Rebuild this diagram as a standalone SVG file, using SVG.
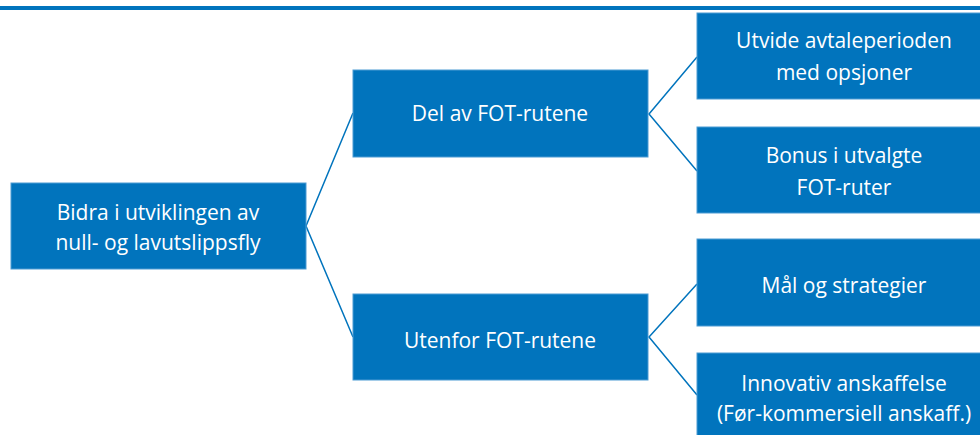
<svg xmlns="http://www.w3.org/2000/svg" width="980" height="435" viewBox="0 0 980 435">
  <style>
    .box { fill: #0174bd; stroke: #4c9bd3; stroke-width: 1; }
    .lbl { fill: #ffffff; font-family: "Open Sans", Lato, "Liberation Sans", sans-serif; font-size: 21px; text-anchor: middle; }
    .conn { fill: none; stroke: #0174bd; stroke-width: 1.5; }
  </style>
  <rect x="0" y="6" width="980" height="4" fill="#0174bd"/>

  <g id="connectors">
    <polyline class="conn" points="353,113 306,226 353,337"/>
    <polyline class="conn" points="697,57 649,114 697,171"/>
    <polyline class="conn" points="697,284 649,337 697,395"/>
  </g>

  <g id="root">
    <rect class="box" x="11" y="183" width="295" height="86"/>
    <text class="lbl" x="158" y="220">Bidra i utviklingen av</text>
    <text class="lbl" x="158" y="250">null- og lavutslippsfly</text>
  </g>

  <g id="del-av">
    <rect class="box" x="353" y="70" width="295" height="87"/>
    <text class="lbl" x="500" y="121">Del av FOT-rutene</text>
  </g>

  <g id="utenfor">
    <rect class="box" x="353" y="294" width="295" height="86"/>
    <text class="lbl" x="500" y="348">Utenfor FOT-rutene</text>
  </g>

  <g id="utvide">
    <rect class="box" x="697" y="13" width="295" height="86"/>
    <text class="lbl" x="844" y="48">Utvide avtaleperioden</text>
    <text class="lbl" x="844" y="80">med opsjoner</text>
  </g>

  <g id="bonus">
    <rect class="box" x="697" y="127" width="295" height="86"/>
    <text class="lbl" x="844" y="163">Bonus i utvalgte</text>
    <text class="lbl" x="844" y="195">FOT-ruter</text>
  </g>

  <g id="maal">
    <rect class="box" x="697" y="239" width="295" height="87"/>
    <text class="lbl" x="844" y="293">Mål og strategier</text>
  </g>

  <g id="innovativ">
    <rect class="box" x="697" y="353" width="295" height="87"/>
    <text class="lbl" x="844" y="391">Innovativ anskaffelse</text>
    <text class="lbl" x="844" y="421">(Før-kommersiell anskaff.)</text>
  </g>
</svg>
